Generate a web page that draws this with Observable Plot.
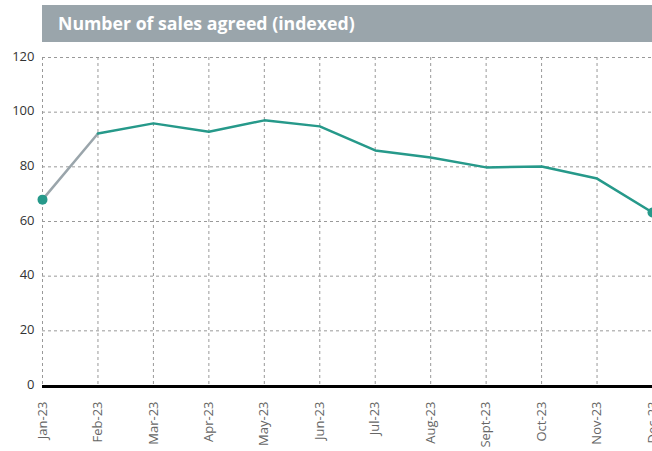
<!DOCTYPE html>
<html>
<head>
<meta charset="utf-8">
<script src="https://cdn.jsdelivr.net/npm/d3@7"></script>
<script src="https://cdn.jsdelivr.net/npm/@observablehq/plot@0.6"></script>
<style>
  html, body { margin: 0; padding: 0; background: #fff; overflow: hidden; width: 652px; height: 451px; }
  #title { margin: 5px 0 0 42px; height: 37px; background: #9aa5ab; color: #fff;
    font-family: "Open Sans", sans-serif; font-weight: 700; font-size: 17.7px;
    line-height: 37px; padding-left: 16px; box-sizing: border-box; }
  #chart svg { display: block; overflow: visible; }
</style>
</head>
<body>
<div id="title">Number of sales agreed (indexed)</div>
<div id="chart"></div>
<script>
const months = ["Jan-23","Feb-23","Mar-23","Apr-23","May-23","Jun-23","Jul-23","Aug-23","Sept-23","Oct-23","Nov-23","Dec-23"];
const values = [68, 92.2, 95.9, 92.8, 97, 94.8, 86, 83.4, 79.8, 80.1, 75.7, 63.3];
const yTicks = [0, 20, 40, 60, 80, 100, 120];

const data = months.map((m, i) => ({month: m, value: values[i], i}));
const teal = "#26998a";
const grey = "#9aa5ab";

const chart = Plot.plot({
  width: 652,
  height: 409,
  marginLeft: 42,
  marginRight: 0,
  marginTop: 15,
  marginBottom: 66,
  style: {fontFamily: "Open Sans, sans-serif", fontSize: "13px", color: "#333", background: "transparent"},
  x: {type: "point", domain: months, padding: 0, round: false, label: null},
  y: {domain: [0, 120], ticks: yTicks, label: null},
  marks: [
    Plot.gridY(yTicks, {stroke: "#999", strokeOpacity: 1, strokeDasharray: "3,3", strokeWidth: 1}),
    Plot.gridX(months, {stroke: "#999", strokeOpacity: 1, strokeDasharray: "3,3", strokeWidth: 1}),
    Plot.axisY(yTicks, {tickSize: 0, tickPadding: 8, fontSize: 13, fill: "#333", dy: -1}),
    Plot.axisX(months, {tickSize: 0, tickPadding: 16, tickRotate: -90, fontSize: 13, fill: "#666"}),
    Plot.ruleY([0], {stroke: "#000", strokeWidth: 3, dy: 1}),
    Plot.line(data.filter(d => d.i <= 1), {x: "month", y: "value", stroke: grey, strokeWidth: 2.5}),
    Plot.line(data.filter(d => d.i >= 1), {x: "month", y: "value", stroke: teal, strokeWidth: 2.5}),
    Plot.dot(data.filter(d => d.i === 0 || d.i === months.length - 1), {x: "month", y: "value", r: 5, fill: teal})
  ]
});
document.getElementById("chart").appendChild(chart);
</script>
</body>
</html>
